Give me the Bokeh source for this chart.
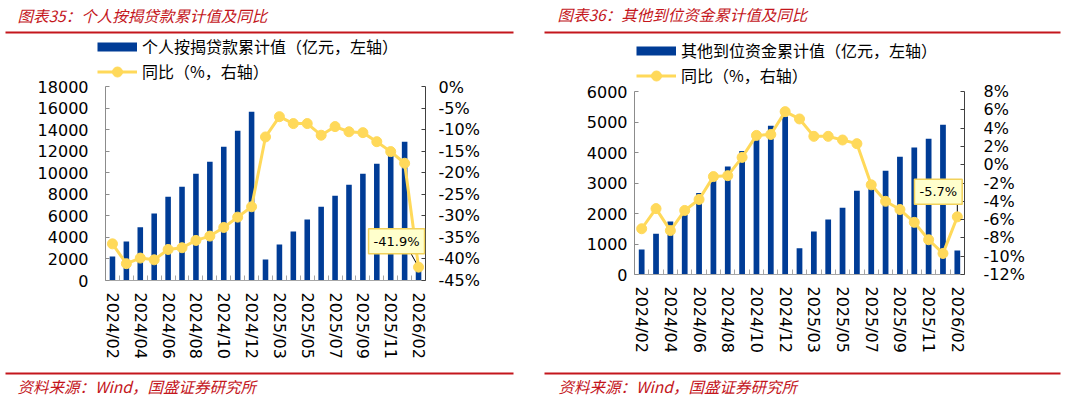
import math
from bokeh.plotting import figure
from bokeh.models import (Range1d, LinearAxis, FixedTicker, SingleIntervalTicker,
                          PrintfTickFormatter, Label, BoxAnnotation, Legend, LegendItem)
from bokeh.layouts import row, column
from bokeh.embed import file_html
from bokeh.resources import INLINE

# ---------------- data ----------------
months = ["2024/02", "2024/03", "2024/04", "2024/05", "2024/06", "2024/07", "2024/08",
          "2024/09", "2024/10", "2024/11", "2024/12", "2025/02", "2025/03", "2025/04",
          "2025/05", "2025/06", "2025/07", "2025/08", "2025/09", "2025/10", "2025/11",
          "2025/12", "2026/02"]
label_positions = list(range(0, 23, 2))

loan_cum = [2220, 3610, 4940, 6210, 7780, 8710, 9910, 11020, 12410, 13890, 15650,
            1950, 3330, 4540, 5650, 6850, 7870, 8890, 9910, 10840, 11880, 12880, 1100]
loan_yoy = [-36.5, -41.1, -39.8, -40.2, -37.8, -37.4, -35.7, -34.7, -32.7, -30.3, -27.9,
            -11.7, -7.0, -8.6, -8.6, -11.3, -9.3, -10.5, -10.7, -12.8, -15.1, -17.8, -41.9]

other_cum = [820, 1340, 1740, 1950, 2670, 3100, 3540, 4050, 4440, 4880, 5180,
             860, 1410, 1800, 2190, 2750, 2810, 3400, 3860, 4160, 4450, 4910, 790]
other_yoy = [-7.0, -4.8, -7.2, -5.0, -3.8, -1.3, -1.2, 0.8, 3.2, 3.3, 5.8,
             5.0, 3.1, 3.1, 2.7, 2.3, -2.2, -4.0, -4.9, -6.3, -8.2, -9.7, -5.7]

titles = ["图表35：个人按揭贷款累计值及同比", "图表36：其他到位资金累计值及同比"]
bar_names = ["个人按揭贷款累计值（亿元，左轴）", "其他到位资金累计值（亿元，左轴）"]
line_name = "同比（%，右轴）"
source_text = "资料来源：Wind，国盛证券研究所"

BLUE = "#003C96"
YELLOW = "#FFD95A"
RED = "#C4161C"
TICK_FONT = "DejaVu Sans"
TICK_SIZE = "16px"
CJK = "Noto Sans CJK SC"
NAN = float("nan")
OVERLAP = 8


def blank(width, height):
    p = figure(width=width, height=height, output_backend="svg", toolbar_location=None,
               x_range=Range1d(0, width), y_range=Range1d(0, height),
               x_axis_type=None, y_axis_type=None, min_border=0)
    p.outline_line_color = None
    p.grid.visible = False
    return p


def rule(p, x0, x1, y0, y1):
    p.add_layout(BoxAnnotation(left=x0, right=x1, bottom=y0, top=y1,
                               fill_color=RED, fill_alpha=1, line_color=None))


def red_text(p, x, y, text):
    p.add_layout(Label(x=x, y=y, text=text, text_font=CJK, text_font_size="15.5px",
                       text_font_style="italic", text_color=RED, text_align="left",
                       text_baseline="middle"))


def header(width, height, title, bar_name, tx, ty, r0, r1, ry, lx, ly, spacing):
    h = blank(width, height)
    red_text(h, tx, ty, title)
    rule(h, r0, r1, ry, ry + 2)
    # legend swatches (proxies hold no visible point, they only style the legend)
    bar_proxy = h.line(x=[NAN], y=[NAN], line_color=BLUE, line_width=9)
    line_proxy = h.line(x=[NAN], y=[NAN], line_color=YELLOW, line_width=3)
    dot_proxy = h.scatter(x=[NAN], y=[NAN], size=10, fill_color=YELLOW, line_color=YELLOW)
    leg = Legend(items=[LegendItem(label=bar_name, renderers=[bar_proxy]),
                        LegendItem(label=line_name, renderers=[line_proxy, dot_proxy])],
                 location=(lx, ly), orientation="vertical", background_fill_alpha=0,
                 border_line_color=None, padding=0, margin=0, spacing=spacing,
                 glyph_width=40, glyph_height=25, label_height=20, label_standoff=5,
                 label_text_font=CJK, label_text_font_size="16px", label_text_color="black")
    h.add_layout(leg)
    return h


def footer(width, r0, r1, tx):
    f = blank(width, 36)
    rule(f, r0, r1, 24, 26)
    red_text(f, tx, 13, source_text)
    return f


def panel(cum, yoy, left_rng, left_step, right_rng, right_step,
          width, height, b_left, b_right, b_top, b_bottom, l_stand, r_stand,
          call_dx, call_dy, lead_dx, lead_dy):
    x = list(range(len(months)))
    p = figure(width=width, height=height, output_backend="svg", toolbar_location=None,
               x_range=Range1d(-0.5, len(months) - 0.5), y_range=Range1d(*left_rng),
               min_border_left=b_left, min_border_right=b_right,
               min_border_top=b_top, min_border_bottom=b_bottom)
    p.extra_y_ranges = {"r": Range1d(*right_rng)}
    p.outline_line_color = None
    p.grid.visible = False
    p.border_fill_alpha = 0
    p.background_fill_alpha = 0

    # x axis
    xa = p.xaxis[0]
    xa.ticker = FixedTicker(ticks=label_positions,
                            minor_ticks=[i - 0.5 for i in range(len(months) + 1)])
    xa.major_label_overrides = {i: months[i] for i in label_positions}
    xa.major_label_orientation = -math.pi / 2
    xa.major_tick_in = 0
    xa.major_tick_out = 0
    xa.minor_tick_in = 5
    xa.minor_tick_out = 0
    xa.minor_tick_line_color = "#A6A6A6"
    xa.axis_line_color = "#A6A6A6"
    xa.major_label_standoff = 12
    xa.major_label_text_font = TICK_FONT
    xa.major_label_text_font_size = TICK_SIZE
    xa.major_label_text_color = "black"

    # left y axis
    ya = p.yaxis[0]
    ya.ticker = SingleIntervalTicker(interval=left_step, num_minor_ticks=0)
    ya.major_tick_in = 4
    ya.major_tick_out = 0
    ya.axis_line_color = "#8C8C8C"
    ya.major_tick_line_color = "#8C8C8C"
    ya.major_label_standoff = l_stand
    ya.major_label_text_font = TICK_FONT
    ya.major_label_text_font_size = TICK_SIZE
    ya.major_label_text_color = "black"

    # right y axis
    ra = LinearAxis(y_range_name="r",
                    ticker=SingleIntervalTicker(interval=right_step, num_minor_ticks=0),
                    formatter=PrintfTickFormatter(format="%d%%"))
    ra.major_tick_in = 4
    ra.major_tick_out = 0
    ra.axis_line_color = "#404040"
    ra.major_tick_line_color = "#404040"
    ra.major_label_standoff = r_stand
    ra.major_label_text_font = TICK_FONT
    ra.major_label_text_font_size = TICK_SIZE
    ra.major_label_text_color = "black"
    p.add_layout(ra, "right")

    # marks
    p.vbar(x=x, top=cum, width=0.4, fill_color=BLUE, line_color=None)
    p.line(x=x, y=yoy, y_range_name="r", line_color=YELLOW, line_width=3)
    last = len(months) - 1
    p.segment(x0=[last + lead_dx], y0=[yoy[last] + lead_dy], x1=[last], y1=[yoy[last]],
              y_range_name="r", line_color="black", line_width=1)
    p.scatter(x=x, y=yoy, y_range_name="r", size=10, fill_color=YELLOW, line_color=YELLOW)

    # callout for the latest value
    txt = "%.1f%%" % yoy[last]
    p.add_layout(Label(x=last, y=yoy[last], y_range_name="r", x_offset=call_dx + 2,
                       y_offset=call_dy - 2, text=txt, text_alpha=0, text_font=TICK_FONT,
                       text_font_size="13px", text_align="center", text_baseline="middle",
                       padding=5, background_fill_color="#999999", background_fill_alpha=0.35))
    p.add_layout(Label(x=last, y=yoy[last], y_range_name="r", x_offset=call_dx, y_offset=call_dy,
                       text=txt, text_font=TICK_FONT, text_font_size="13px", text_color="black",
                       text_align="center", text_baseline="middle", padding=5,
                       background_fill_color="#FFFFCC", border_line_color="#F2D15A",
                       border_line_width=1.5))
    return p


# left column (x 0..535)
h1 = header(535, 85, titles[0], bar_names[0], tx=17, ty=71, r0=5, r1=513, ry=52,
            lx=97, ly=1.5, spacing=-4)
p1 = panel(loan_cum, loan_yoy, (0, 18000), 2000, (-45, 0), 5,
           width=535, height=285, b_left=105, b_right=110, b_top=9, b_bottom=82,
           l_stand=17, r_stand=13, call_dx=-22, call_dy=26, lead_dx=-0.55, lead_dy=3.2)
f1 = footer(535, 5, 513, 17)

# right column (x 535..1065)
h2 = header(530, 89, titles[1], bar_names[1], tx=22, ty=76, r0=9, r1=525, ry=56,
            lx=101, ly=1.5, spacing=-6)
p2 = panel(other_cum, other_yoy, (0, 6000), 1000, (-12, 8), 2,
           width=530, height=281, b_left=99, b_right=101, b_top=10, b_bottom=88,
           l_stand=7, r_stand=19, call_dx=-19, call_dy=25, lead_dx=0, lead_dy=1.6)
f2 = footer(530, 9, 525, 23)

layout = row(column(row(h1), row(p1, margin=(-OVERLAP, 0, 0, 0)), row(f1)),
             column(row(h2), row(p2, margin=(-OVERLAP, 0, 0, 0)), row(f2)))
open("out.html", "w").write(file_html(layout, INLINE))
